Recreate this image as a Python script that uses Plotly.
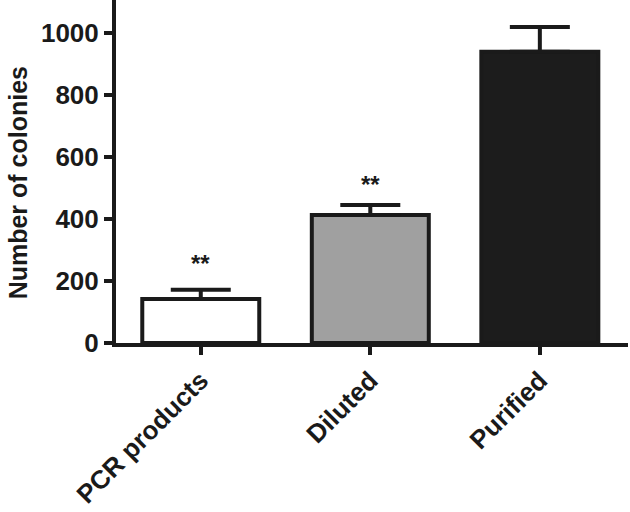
import plotly.graph_objects as go

categories = ["PCR products", "Diluted", "Purified"]
colonies = [142, 413, 939]
errors = [30, 32, 80]
bar_colors = ["#ffffff", "#a0a0a0", "#1c1c1c"]
marks = ["**", "**", ""]

font_main = "Liberation Sans, Arial, sans-serif"
ink = "#1a1a1a"

fig = go.Figure(go.Bar(
    x=categories,
    y=colonies,
    marker=dict(color=bar_colors, line=dict(color=ink, width=4)),
    error_y=dict(type="data", symmetric=False, array=errors,
                 arrayminus=[0, 0, 0], color=ink,
                 thickness=4, width=30),
))

# significance stars sit a little above the error caps
star_shift = [11, 5, 0]
for c, v, e, m, s in zip(categories, colonies, errors, marks, star_shift):
    if m:
        fig.add_annotation(x=c, y=v + e, text=m, showarrow=False,
                           yanchor="bottom", yshift=s,
                           font=dict(family=font_main, size=24, weight="bold",
                                     color=ink))

# y-axis title as an annotation so it can sit slightly below centre
fig.add_annotation(xref="paper", yref="paper", x=-0.191, y=0.466,
                   xanchor="center", yanchor="middle",
                   text="Number of colonies", textangle=-90, showarrow=False,
                   font=dict(family=font_main, size=25, weight="bold", color=ink))

fig.update_layout(
    width=630, height=512,
    margin=dict(l=116, r=2, t=0, b=169),
    plot_bgcolor="white", paper_bgcolor="white",
    bargap=0.31,
    showlegend=False,
    font=dict(family=font_main, size=25, color=ink),
)
fig.update_xaxes(
    range=[-0.5, 2.52], showline=True, linewidth=4, linecolor=ink,
    ticks="outside", ticklen=8, tickwidth=4, tickcolor=ink,
    tickangle=-45, tickfont=dict(family=font_main, size=26, weight="bold", color=ink),
    showgrid=False, automargin=False,
)
fig.update_yaxes(
    range=[0, 1106], showline=True, linewidth=4, linecolor=ink,
    ticks="outside", ticklen=8, tickwidth=4, tickcolor=ink,
    tickvals=[0, 200, 400, 600, 800, 1000],
    tickfont=dict(family=font_main, size=26, weight="bold", color=ink),
    showgrid=False, zeroline=False, automargin=False,
)

# page body has a default 8px margin; drop it so the figure fills the window
fig.write_html("out.html", config={"displayModeBar": False},
               post_script="document.body.style.margin='0';")
